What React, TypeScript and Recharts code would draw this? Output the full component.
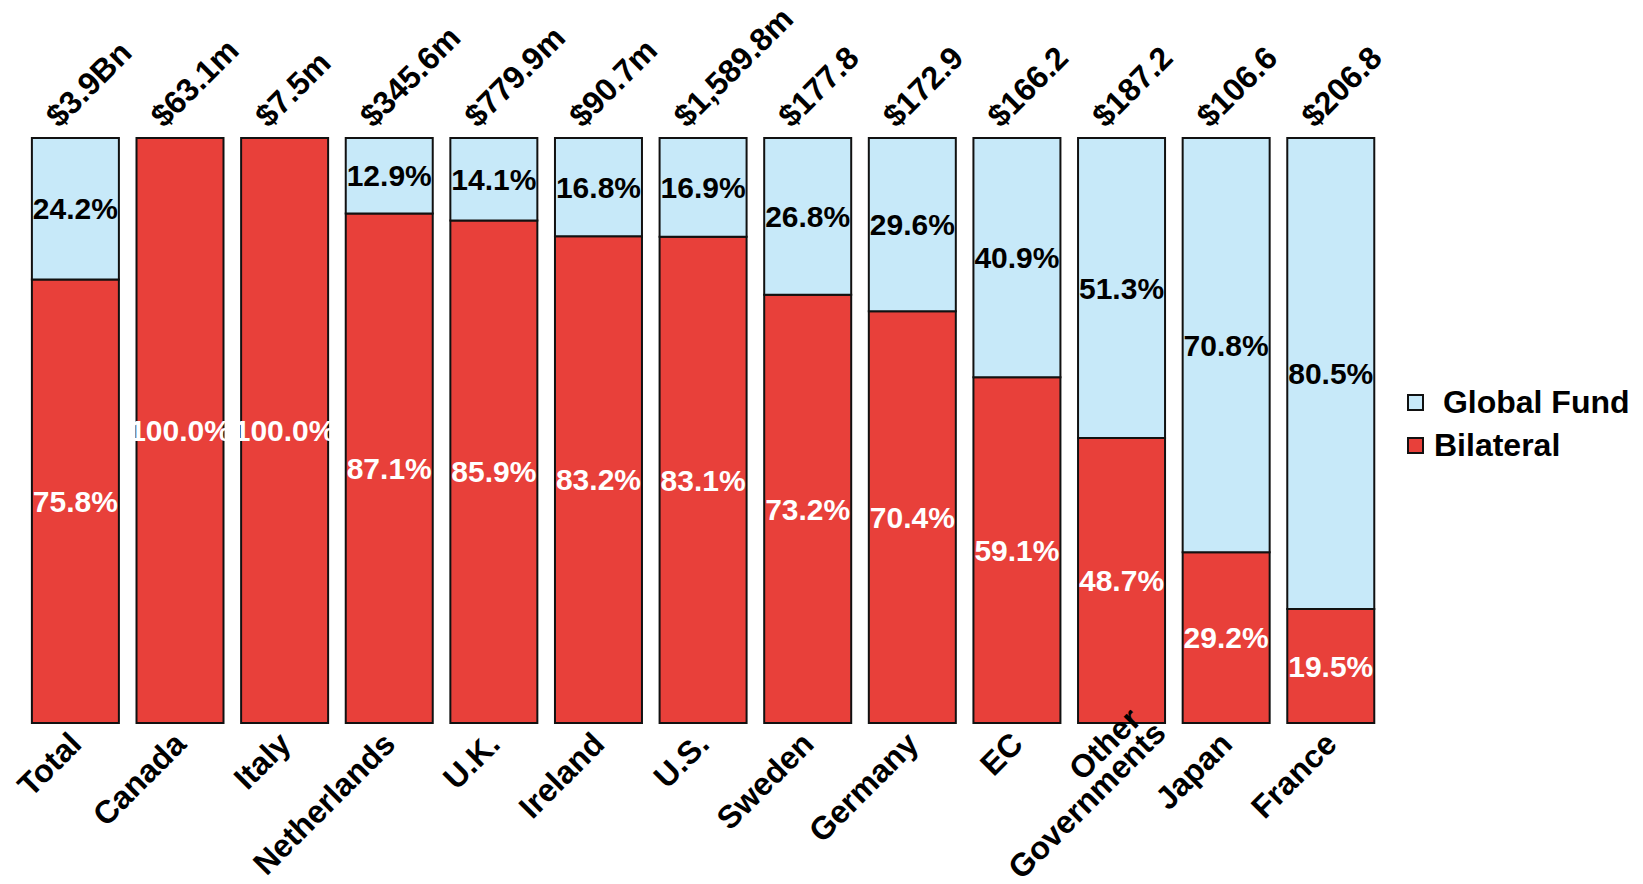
import React from 'react';
import { BarChart, Bar, XAxis, YAxis, Legend, LabelList } from 'recharts';

const categories = [
  'Total', 'Canada', 'Italy', 'Netherlands', 'U.K.', 'Ireland', 'U.S.',
  'Sweden', 'Germany', 'EC', 'Other Governments', 'Japan', 'France',
];
const totals = [
  '$3.9Bn', '$63.1m', '$7.5m', '$345.6m', '$779.9m', '$90.7m', '$1,589.8m',
  '$177.8', '$172.9', '$166.2', '$187.2', '$106.6', '$206.8',
];
const globalFund = [24.2, 0, 0, 12.9, 14.1, 16.8, 16.9, 26.8, 29.6, 40.9, 51.3, 70.8, 80.5];
const bilateral = [75.8, 100, 100, 87.1, 85.9, 83.2, 83.1, 73.2, 70.4, 59.1, 48.7, 29.2, 19.5];

const data = categories.map((name, i) => ({
  name,
  total: totals[i],
  globalFund: globalFund[i],
  bilateral: bilateral[i],
}));

const FONT = '"Liberation Sans", Arial, sans-serif';
const BLUE = '#C7E9F9';
const RED = '#E8403A';

const pct = (v: any) => (Number(v) > 0 ? `${Number(v).toFixed(1)}%` : '');

// country names under the bars, rotated -45deg, anchored at their end
const BottomTick = (props: any) => {
  const { x, y, payload } = props;
  const words = String(payload.value).split(' ');
  const multi = words.length > 1;
  const lines = multi ? words : [payload.value];
  const ex = x + (multi ? 46 : 8);
  const ey = y + (multi ? 4 : 15);
  return (
    <g transform={`translate(${ex},${ey}) rotate(-45)`}>
      <text textAnchor="end" fontFamily={FONT} fontWeight="bold" fontSize={32} fill="#000">
        {lines.map((l: string, i: number) => (
          <tspan key={l} x={i === lines.length - 1 ? 0 : -8} y={(i - lines.length + 1) * 27}>
            {l}
          </tspan>
        ))}
      </text>
    </g>
  );
};

// totals above the bars
const TopTick = (props: any) => {
  const { x, y, payload } = props;
  return (
    <g transform={`translate(${x - 16},${y - 1}) rotate(-45)`}>
      <text textAnchor="start" fontFamily={FONT} fontWeight="bold" fontSize={32} fill="#000">
        {payload.value}
      </text>
    </g>
  );
};

const LegendBox = () => {
  const items = [
    { label: '\u00a0Global Fund', color: BLUE },
    { label: 'Bilateral', color: RED },
  ];
  return (
    <div style={{ fontFamily: FONT, fontWeight: 'bold', fontSize: 32 }}>
      {items.map((it) => (
        <div key={it.label} style={{ display: 'flex', alignItems: 'center', height: 43 }}>
          <span
            style={{
              display: 'inline-block',
              width: 13,
              height: 13,
              background: it.color,
              border: '2px solid #111',
              marginRight: 10,
            }}
          />
          <span style={{ whiteSpace: 'pre' }}>{it.label}</span>
        </div>
      ))}
    </div>
  );
};

export default function App() {
  return (
    <div>
      <style>{'svg { overflow: visible; }'}</style>
      <BarChart
        width={1627}
        height={876}
        data={data}
        margin={{ top: 100, right: 252, left: 15, bottom: 21 }}
        barCategoryGap="8.5%"
      >
        <XAxis
          dataKey="name"
          height={140}
          tickLine={false}
          axisLine={false}
          interval={0}
          tick={<BottomTick />}
        />
        <XAxis
          xAxisId="top"
          orientation="top"
          dataKey="total"
          height={30}
          tickLine={false}
          axisLine={false}
          interval={0}
          tick={<TopTick />}
        />
        <YAxis hide domain={[0, 100]} />
        <Legend
          layout="vertical"
          align="center"
          verticalAlign="middle"
          content={<LegendBox />}
          wrapperStyle={{ left: 1399, top: 373, width: 240 }}
        />
        <Bar
          dataKey="bilateral"
          name="Bilateral"
          stackId="a"
          fill={RED}
          stroke="#111"
          strokeWidth={2}
          isAnimationActive={false}
        >
          <LabelList
            dataKey="bilateral"
            position="center"
            formatter={pct}
            fill="#fff"
            fontFamily={FONT}
            fontWeight="bold"
            fontSize={30}
          />
        </Bar>
        <Bar
          dataKey="globalFund"
          name="Global Fund"
          stackId="a"
          fill={BLUE}
          stroke="#111"
          strokeWidth={2}
          isAnimationActive={false}
        >
          <LabelList
            dataKey="globalFund"
            position="center"
            formatter={pct}
            fill="#000"
            fontFamily={FONT}
            fontWeight="bold"
            fontSize={30}
          />
        </Bar>
      </BarChart>
    </div>
  );
}
